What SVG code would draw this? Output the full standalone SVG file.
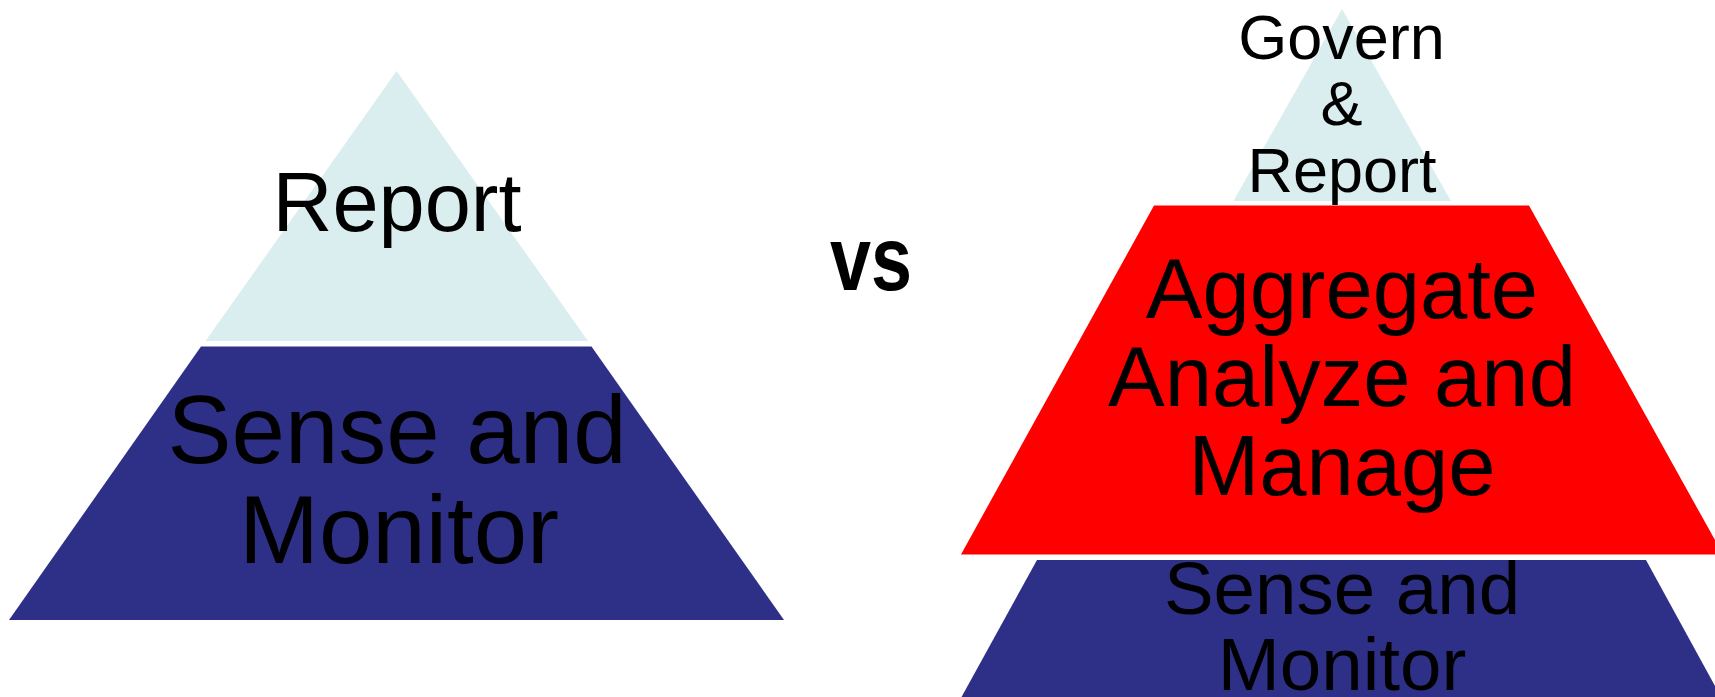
<svg xmlns="http://www.w3.org/2000/svg" width="1715" height="697" viewBox="0 0 1715 697">
<style>
.light{fill:#DAEDEF}
.dark{fill:#2E3088}
.red{fill:#FF0000}
text{font-family:"Liberation Sans",Arial,sans-serif;fill:#000;text-anchor:middle}
</style>
<rect width="1715" height="697" fill="#fff"/>
<g id="left-report">
<polygon class="light" points="396.6,71 588,341 205.5,341"/>
<text x="397" y="231" font-size="83">Report</text>
</g>
<g id="left-sense">
<polygon class="dark" points="201,346.5 591.5,346.5 784,620 9,620"/>
<text x="397" y="463" font-size="96">Sense and</text>
<text x="399" y="563" font-size="96">Monitor</text>
</g>
<g id="vs">
<text x="871" y="290" font-size="90" font-weight="bold" textLength="82" lengthAdjust="spacingAndGlyphs">vs</text>
</g>
<g id="right-govern">
<polygon class="light" points="1342,9 1451,201 1233.5,201"/>
<text x="1341.5" y="59" font-size="63">Govern</text>
<text x="1341.5" y="124.5" font-size="63">&amp;</text>
<text x="1342" y="192" font-size="63">Report</text>
</g>
<g id="right-aggregate">
<polygon class="red" points="1154,205.5 1529,205.5 1723,554.5 961,554.5"/>
<text x="1342" y="318" font-size="85">Aggregate</text>
<text x="1342" y="406" font-size="85">Analyze and</text>
<text x="1342" y="495" font-size="85">Manage</text>
</g>
<g id="right-sense">
<polygon class="dark" points="1037,560 1646,560 1721,697 961.5,697"/>
<text x="1342" y="613.5" font-size="74.5">Sense and</text>
<text x="1342" y="690" font-size="74.5">Monitor</text>
</g>
<g id="connectors"/>
</svg>
